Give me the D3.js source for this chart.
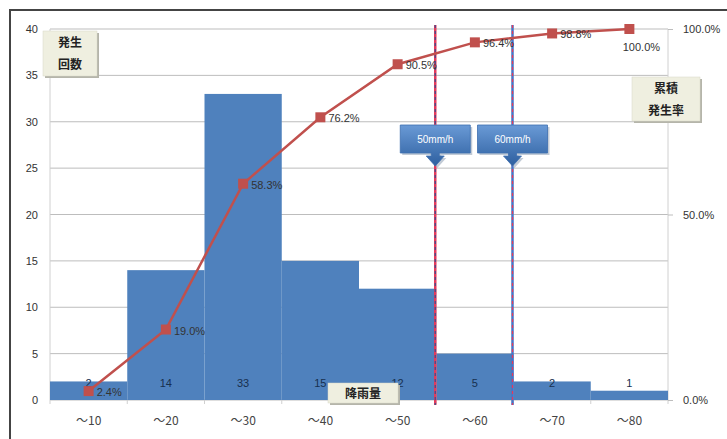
<!DOCTYPE html>
<html>
<head>
<meta charset="utf-8">
<script src="https://cdn.jsdelivr.net/npm/d3@7"></script>
<style>
  body { margin: 0; background: #fff; }
  svg { display: block; }
</style>
</head>
<body>
<div id="chart"></div>
<script>
// data
const categories = ["～10", "～20", "～30", "～40", "～50", "～60", "～70", "～80"];
const counts = [2, 14, 33, 15, 12, 5, 2, 1];
const cumulative = [2.4, 19.0, 58.3, 76.2, 90.5, 96.4, 98.8, 100.0];
const leftTicks = [0, 5, 10, 15, 20, 25, 30, 35, 40];
const rightTicks = [0, 50, 100];
const thresholdLabels = ["50mm/h", "60mm/h"];
const thresholdStarts = ["～60", "～70"];
const thresholdColors = [["#e23a5c", "#3a4f8f"], ["#4a74c4", "#e23a5c"]];

const W = 727, H = 439;
const plotLeft = 50, plotRight = 668, plotTop = 29, plotBottom = 400;
const numFont = "'Liberation Sans', Arial, sans-serif";
const jpFont = "'Noto Sans CJK JP', sans-serif";

const svg = d3.select("#chart")
  .append("svg")
  .attr("width", W)
  .attr("height", H);

const defs = svg.append("defs");
const grad = defs.append("linearGradient")
  .attr("id", "callout")
  .attr("x1", 0).attr("y1", 0).attr("x2", 0).attr("y2", 1);
grad.append("stop").attr("offset", "0%").attr("stop-color", "#6a9ad6");
grad.append("stop").attr("offset", "100%").attr("stop-color", "#2d5f9f");

// outer frame
svg.append("path")
  .attr("d", "M10," + H + " L10,10 L" + W + ",10")
  .attr("fill", "none")
  .attr("stroke", "#444")
  .attr("stroke-width", 2);

const x = d3.scaleBand()
  .domain(categories)
  .range([plotLeft, plotRight])
  .padding(0);

const y = d3.scaleLinear()
  .domain([0, 40])
  .range([plotBottom, plotTop]);

const yR = d3.scaleLinear()
  .domain([0, 100])
  .range([plotBottom, plotTop]);

// gridlines
svg.append("g")
  .selectAll("line")
  .data(leftTicks)
  .enter()
  .append("line")
  .attr("x1", plotLeft)
  .attr("x2", plotRight)
  .attr("y1", d => y(d))
  .attr("y2", d => y(d))
  .attr("stroke", "#bdbdbd")
  .attr("stroke-width", 1);

svg.append("g")
  .selectAll("line")
  .data([plotLeft, plotRight])
  .enter()
  .append("line")
  .attr("x1", d => d)
  .attr("x2", d => d)
  .attr("y1", plotTop)
  .attr("y2", plotBottom + 4)
  .attr("stroke", "#d0d0d0");

// left axis
const leftAxis = svg.append("g")
  .attr("transform", "translate(" + (plotLeft - 12) + ",0)")
  .call(d3.axisLeft(y).tickValues(leftTicks).tickSize(0).tickPadding(0));
leftAxis.select(".domain").remove();
leftAxis.selectAll("text")
  .attr("font-family", numFont)
  .attr("font-size", 11)
  .attr("fill", "#333");

// right axis
const rightAxis = svg.append("g")
  .attr("transform", "translate(" + plotRight + ",0)")
  .call(d3.axisRight(yR).tickValues(rightTicks).tickSize(5).tickPadding(10)
    .tickFormat(d => d.toFixed(1) + "%"));
rightAxis.select(".domain").remove();
rightAxis.selectAll("line").attr("stroke", "#bdbdbd");
rightAxis.selectAll("text")
  .attr("font-family", numFont)
  .attr("font-size", 11)
  .attr("fill", "#333");

// bars
svg.append("g")
  .selectAll("rect")
  .data(counts)
  .enter()
  .append("rect")
  .attr("x", (d, i) => x(categories[i]))
  .attr("y", d => y(d))
  .attr("width", x.bandwidth())
  .attr("height", d => plotBottom - y(d))
  .attr("fill", "#4f81bd");

// bottom axis
const bottomAxis = svg.append("g")
  .attr("transform", "translate(0," + plotBottom + ")")
  .call(d3.axisBottom(x).tickSize(0).tickPadding(16));
bottomAxis.select(".domain").remove();
bottomAxis.selectAll("text")
  .attr("font-family", jpFont)
  .attr("font-size", 12)
  .attr("fill", "#444");
svg.append("g")
  .selectAll("line")
  .data(categories.slice(1))
  .enter()
  .append("line")
  .attr("x1", d => x(d))
  .attr("x2", d => x(d))
  .attr("y1", plotBottom)
  .attr("y2", plotBottom + 4)
  .attr("stroke", "#d0d0d0");

// bar count labels
svg.append("g")
  .selectAll("text")
  .data(counts)
  .enter()
  .append("text")
  .attr("x", (d, i) => x(categories[i]) + x.bandwidth() / 2)
  .attr("y", plotBottom - 13)
  .attr("text-anchor", "middle")
  .attr("font-family", numFont)
  .attr("font-size", 11)
  .attr("fill", "#17304f")
  .text(d => d);

// threshold lines
thresholdStarts.forEach(function (c, i) {
  const lx = x(c) - 1;
  svg.append("line")
    .attr("x1", lx).attr("x2", lx)
    .attr("y1", plotTop - 4).attr("y2", plotBottom + 5)
    .attr("stroke", thresholdColors[i][0])
    .attr("stroke-width", 2.5);
  svg.append("line")
    .attr("x1", lx).attr("x2", lx)
    .attr("y1", plotTop - 4).attr("y2", plotBottom + 5)
    .attr("stroke", thresholdColors[i][1])
    .attr("stroke-width", 1.2)
    .attr("stroke-dasharray", "3,3");
});

// cumulative line
const cx = (d, i) => x(categories[i]) + x.bandwidth() / 2;
svg.append("path")
  .datum(cumulative)
  .attr("fill", "none")
  .attr("stroke", "#c0504d")
  .attr("stroke-width", 2.5)
  .attr("d", d3.line().x(cx).y(d => yR(d)));

svg.append("g")
  .selectAll("rect")
  .data(cumulative)
  .enter()
  .append("rect")
  .attr("x", (d, i) => cx(d, i) - 5)
  .attr("y", d => yR(d) - 5)
  .attr("width", 10)
  .attr("height", 10)
  .attr("fill", "#c0504d");

svg.append("g")
  .selectAll("text")
  .data(cumulative)
  .enter()
  .append("text")
  .attr("x", (d, i) => i === cumulative.length - 1 ? cx(d, i) + 12 : cx(d, i) + 8)
  .attr("y", (d, i) => i === cumulative.length - 1 ? yR(d) + 22 : yR(d) + 5)
  .attr("text-anchor", (d, i) => i === cumulative.length - 1 ? "middle" : "start")
  .attr("font-family", numFont)
  .attr("font-size", 11)
  .attr("fill", "#333")
  .text(d => d.toFixed(1) + "%");

// callouts
thresholdStarts.forEach(function (c, i) {
  const cxl = x(c) - 1;
  const bw = 70, bh = 28, by = 125;
  const g = svg.append("g");
  const p = d3.path();
  p.moveTo(cxl - bw / 2, by);
  p.lineTo(cxl + bw / 2, by);
  p.lineTo(cxl + bw / 2, by + bh);
  p.lineTo(cxl + 4, by + bh);
  p.lineTo(cxl + 4, by + bh + 3);
  p.lineTo(cxl + 9, by + bh + 3);
  p.lineTo(cxl, by + bh + 13);
  p.lineTo(cxl - 9, by + bh + 3);
  p.lineTo(cxl - 4, by + bh + 3);
  p.lineTo(cxl - 4, by + bh);
  p.lineTo(cxl - bw / 2, by + bh);
  p.closePath();
  g.append("path")
    .attr("d", p.toString())
    .attr("transform", "translate(2,2)")
    .attr("fill", "#9aa8bb")
    .attr("opacity", 0.6);
  g.append("path")
    .attr("d", p.toString())
    .attr("fill", "url(#callout)")
    .attr("stroke", "#3d6eb0")
    .attr("stroke-width", 0.8);
  g.append("text")
    .attr("x", cxl)
    .attr("y", by + 18)
    .attr("text-anchor", "middle")
    .attr("font-family", numFont)
    .attr("font-size", 10)
    .attr("fill", "#fff")
    .text(thresholdLabels[i]);
});

// title boxes
function labelBox(bx, by, bw, bh, lines) {
  const g = svg.append("g");
  g.append("rect")
    .attr("x", bx + 2).attr("y", by + 2)
    .attr("width", bw).attr("height", bh)
    .attr("fill", "#b5b5aa");
  g.append("rect")
    .attr("x", bx).attr("y", by)
    .attr("width", bw).attr("height", bh)
    .attr("fill", "#efefe0")
    .attr("stroke", "#d8d8c8")
    .attr("stroke-width", 0.5);
  const lh = bh / lines.length;
  lines.forEach(function (t, k) {
    g.append("text")
      .attr("x", bx + bw / 2)
      .attr("y", by + lh * k + lh / 2 + 4.5)
      .attr("text-anchor", "middle")
      .attr("font-family", jpFont)
      .attr("font-size", 12)
      .attr("font-weight", "bold")
      .attr("fill", "#222")
      .text(t);
  });
}
labelBox(43, 31, 54, 45, ["発生", "回数"]);
labelBox(632, 77, 68, 44, ["累積", "発生率"]);
labelBox(328, 383, 70, 20, ["降雨量"]);
</script>
</body>
</html>
